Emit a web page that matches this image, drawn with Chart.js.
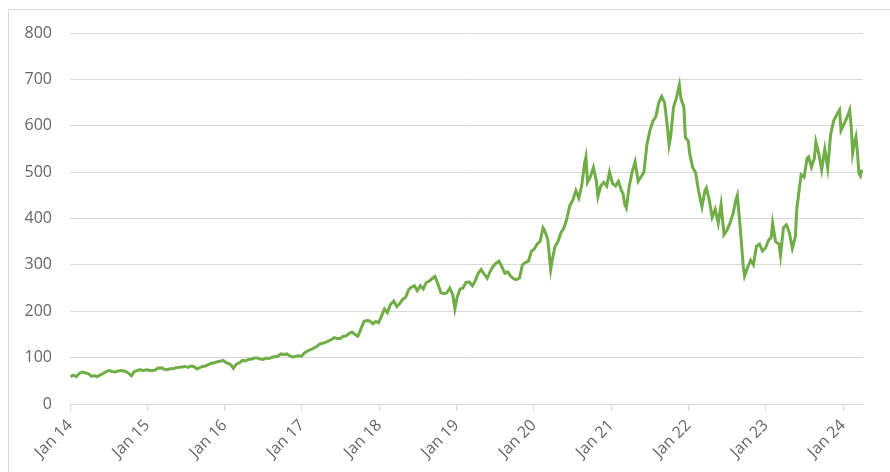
<!DOCTYPE html>
<html>
<head>
<meta charset="utf-8">
<script src="https://cdn.jsdelivr.net/npm/chart.js@4/dist/chart.umd.min.js"></script>
<style>
  html, body { margin: 0; padding: 0; background: #fff; }
  #frame { position: absolute; left: 8px; top: 9px; width: 900px; height: 500px; border-left: 1px solid #d9d9d9; border-top: 1px solid #d9d9d9; }
  #wrap { position: absolute; left: 0; top: 0; width: 890px; height: 472px; }
</style>
</head>
<body>
<div id="frame"></div>
<div id="wrap"><canvas id="c"></canvas></div>
<script>
// weekly-ish closes
const dates = [
  '2014-01-03','2014-01-17','2014-01-31','2014-02-14','2014-02-28','2014-03-14','2014-03-28','2014-04-11','2014-04-25','2014-05-09','2014-05-23','2014-06-06','2014-06-20','2014-07-03','2014-07-18','2014-08-01','2014-08-15','2014-08-29','2014-09-12','2014-09-26','2014-10-10','2014-10-17','2014-10-31','2014-11-14','2014-11-28','2014-12-12','2014-12-26',
  '2015-01-09','2015-01-23','2015-02-06','2015-02-20','2015-03-06','2015-03-20','2015-04-03','2015-04-17','2015-05-01','2015-05-15','2015-05-29','2015-06-12','2015-06-26','2015-07-10','2015-07-24','2015-08-07','2015-08-21','2015-09-04','2015-09-18','2015-10-02','2015-10-16','2015-10-30','2015-11-13','2015-11-27','2015-12-11','2015-12-24',
  '2016-01-08','2016-01-22','2016-02-05','2016-02-12','2016-02-26','2016-03-11','2016-03-25','2016-04-08','2016-04-22','2016-05-06','2016-05-20','2016-06-03','2016-06-17','2016-07-01','2016-07-15','2016-07-29','2016-08-12','2016-08-26','2016-09-09','2016-09-23','2016-10-07','2016-10-21','2016-11-04','2016-11-18','2016-12-02','2016-12-16','2016-12-30',
  '2017-01-13','2017-01-27','2017-02-10','2017-02-24','2017-03-10','2017-03-24','2017-04-07','2017-04-21','2017-05-05','2017-05-19','2017-06-02','2017-06-16','2017-06-30','2017-07-14','2017-07-28','2017-08-11','2017-08-25','2017-09-08','2017-09-22','2017-10-06','2017-10-20','2017-11-03','2017-11-17','2017-12-01','2017-12-15','2017-12-29',
  '2018-01-12','2018-01-26','2018-02-09','2018-02-23','2018-03-09','2018-03-23','2018-04-06','2018-04-20','2018-05-04','2018-05-18','2018-06-01','2018-06-15','2018-06-29','2018-07-13','2018-07-27','2018-08-10','2018-08-24','2018-09-07','2018-09-21','2018-10-05','2018-10-19','2018-11-02','2018-11-16','2018-11-30','2018-12-14','2018-12-24',
  '2019-01-04','2019-01-18','2019-02-01','2019-02-15','2019-03-01','2019-03-15','2019-03-29','2019-04-12','2019-04-26','2019-05-10','2019-05-24','2019-06-07','2019-06-21','2019-07-05','2019-07-19','2019-08-02','2019-08-16','2019-08-30','2019-09-13','2019-09-27','2019-10-11','2019-10-25','2019-11-08','2019-11-22','2019-12-06','2019-12-20',
  '2020-01-03','2020-01-17','2020-01-31','2020-02-14','2020-02-21','2020-03-06','2020-03-20','2020-03-27','2020-04-10','2020-04-24','2020-05-08','2020-05-22','2020-06-05','2020-06-19','2020-07-03','2020-07-17','2020-07-31','2020-08-14','2020-08-28','2020-09-04','2020-09-11','2020-09-25','2020-10-09','2020-10-23','2020-10-30','2020-11-13','2020-11-27','2020-12-11','2020-12-24',
  '2021-01-08','2021-01-22','2021-02-05','2021-02-19','2021-02-26','2021-03-05','2021-03-12','2021-03-26','2021-04-09','2021-04-23','2021-05-07','2021-05-21','2021-06-04','2021-06-18','2021-07-02','2021-07-16','2021-07-30','2021-08-13','2021-08-27','2021-09-10','2021-09-24','2021-10-01','2021-10-08','2021-10-22','2021-11-05','2021-11-19','2021-11-26','2021-12-10','2021-12-17','2021-12-31',
  '2022-01-07','2022-01-21','2022-02-04','2022-02-18','2022-03-04','2022-03-18','2022-03-25','2022-04-08','2022-04-22','2022-05-06','2022-05-20','2022-06-03','2022-06-17','2022-07-01','2022-07-15','2022-07-29','2022-08-12','2022-08-19','2022-09-02','2022-09-16','2022-09-23','2022-10-07','2022-10-21','2022-11-04','2022-11-18','2022-12-02','2022-12-16','2022-12-30',
  '2023-01-13','2023-01-27','2023-02-03','2023-02-17','2023-03-03','2023-03-10','2023-03-24','2023-04-07','2023-04-21','2023-05-05','2023-05-19','2023-05-26','2023-06-09','2023-06-16','2023-06-30','2023-07-14','2023-07-21','2023-08-04','2023-08-18','2023-08-25','2023-09-08','2023-09-22','2023-10-06','2023-10-20','2023-11-03','2023-11-17','2023-12-01','2023-12-15','2023-12-22','2023-12-29',
  '2024-01-12','2024-01-26','2024-02-02','2024-02-09','2024-02-16','2024-02-23','2024-03-01','2024-03-08','2024-03-15','2024-03-22','2024-03-29'
]
const prices = [
  59,62,59,66,69,67,65,60,61,59,63,66,70,72,70,69,71,72,71,69,64,61,70,72,74,72,74,
  73,72,73,77,78,75,74,76,76,78,79,80,81,79,82,81,76,78,81,82,85,88,89,91,92,94,
  89,87,82,77,86,89,94,93,96,97,99,99,97,96,99,98,101,102,103,108,107,108,104,101,103,104,103,
  110,114,117,120,124,129,131,133,136,139,143,141,141,146,147,152,155,150,146,162,178,180,179,173,178,175,
  190,205,197,214,222,210,216,225,230,246,252,255,244,255,248,262,265,270,275,258,240,238,240,250,235,205,
  230,248,250,262,263,255,266,282,290,280,271,285,296,304,308,296,282,285,276,270,268,272,300,305,308,329,
  334,345,351,380,375,355,290,310,340,350,370,380,400,428,440,460,444,470,520,533,478,490,510,480,447,470,478,470,500,
  475,470,480,460,455,430,423,470,500,522,480,490,500,560,590,610,620,650,663,650,595,558,575,640,660,688,660,640,575,567,
  540,510,500,461,425,460,466,440,403,420,390,430,365,375,390,410,440,450,382,300,276,295,310,300,340,345,330,336,
  352,360,390,350,345,321,380,386,370,336,360,420,470,494,489,530,533,511,530,565,540,505,550,509,580,610,623,634,590,597,
  610,625,634,600,541,560,576,545,498,492,505
]
const yearLabels = ['Jan 14','Jan 15','Jan 16','Jan 17','Jan 18','Jan 19','Jan 20','Jan 21','Jan 22','Jan 23','Jan 24']
const yTicks = [0,100,200,300,400,500,600,700,800]

// months since 1 Jan 2014
const toMonths = s => {
  const [y, m, d] = s.split('-').map(Number)
  return (y - 2014) * 12 + (m - 1) + (d - 1) / 30.5
}
const points = dates.map((d, i) => ({x: toMonths(d), y: prices[i]}))

const labelFont = {family: '"Open Sans", "DejaVu Sans", sans-serif', size: 16}

new Chart(document.getElementById('c'), {
  type: 'line',
  data: {
    datasets: [{
      data: points,
      borderColor: '#70AD47',
      borderWidth: 3,
      pointRadius: 0,
      tension: 0,
      fill: false
    }]
  },
  options: {
    responsive: true,
    maintainAspectRatio: false,
    animation: false,
    layout: {padding: {left: 0, right: 27, top: 33, bottom: 0}},
    plugins: {legend: {display: false}, tooltip: {enabled: false}},
    scales: {
      x: {
        type: 'linear',
        min: 0,
        max: 123.1,
        afterBuildTicks: s => { s.ticks = yearLabels.map((_, i) => ({value: i * 12})) },
        afterFit: s => { s.height = 68 },
        ticks: {
          autoSkip: false,
          maxRotation: 45,
          minRotation: 45,
          padding: 5,
          color: '#666666',
          font: labelFont,
          callback: (v) => yearLabels[Math.round(v / 12)]
        },
        grid: {drawOnChartArea: false, drawTicks: true, tickLength: 7, color: '#d9d9d9'},
        border: {display: true, color: '#d9d9d9', width: 1}
      },
      y: {
        min: 0,
        max: 800,
        afterBuildTicks: s => { s.ticks = yTicks.map(v => ({value: v})) },
        afterFit: s => { s.width = 70 },
        ticks: {padding: 18, color: '#666666', font: labelFont},
        grid: {color: '#d9d9d9', drawTicks: false, lineWidth: 1},
        border: {display: false}
      }
    }
  }
})
</script>
</body>
</html>
